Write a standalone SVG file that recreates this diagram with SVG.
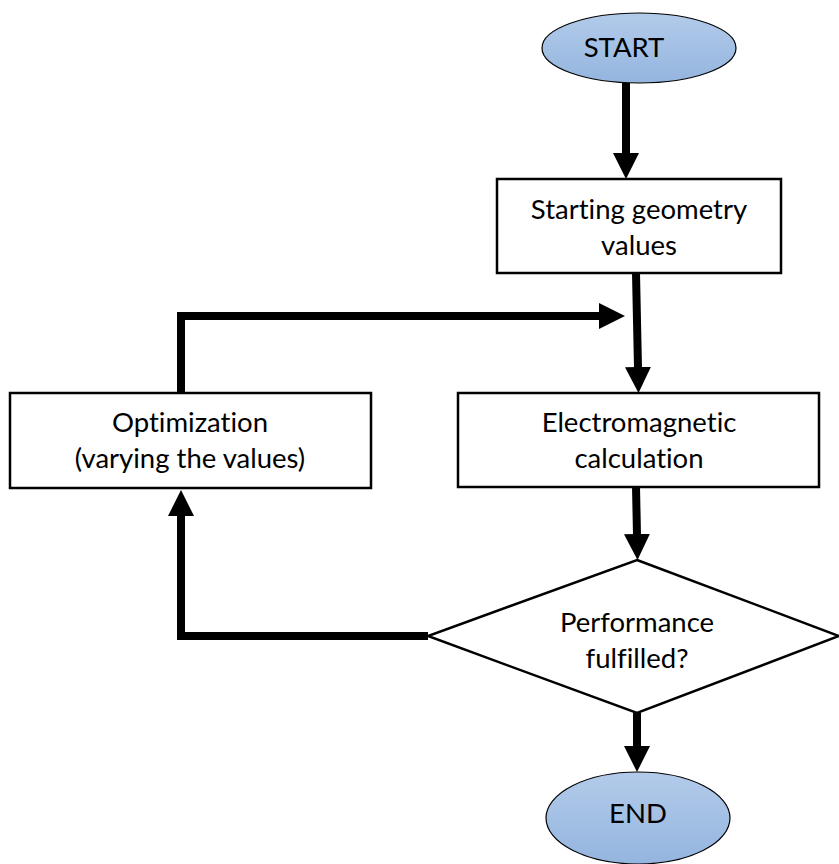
<svg xmlns="http://www.w3.org/2000/svg" width="839" height="864" viewBox="0 0 839 864">
  <defs>
    <linearGradient id="blueFill" x1="0" y1="0" x2="0" y2="1">
      <stop offset="0" stop-color="#b3cbea"/>
      <stop offset="1" stop-color="#94b5df"/>
    </linearGradient>
    <marker id="head" markerUnits="userSpaceOnUse" markerWidth="26" markerHeight="26" viewBox="0 0 26 26" refX="1" refY="13" orient="auto">
      <path d="M0,0 L26,13 L0,26 z" fill="#000"/>
    </marker>
    <style>
      .term { fill: url(#blueFill); stroke: #000; stroke-width: 1.2; }
      .box { fill: #fff; stroke: #000; stroke-width: 2.5; }
      .lbl { font-family: Lato, "Liberation Sans", Arial, sans-serif; font-size: 27.5px; fill: #000; text-anchor: middle; font-variant-ligatures: none; }
      .conn { fill: none; stroke: #000; stroke-width: 8; stroke-linejoin: miter; marker-end: url(#head); }
    </style>
  </defs>
  <rect width="839" height="864" fill="#fff"/>

  <g id="connectors">
    <line class="conn" x1="626" y1="83" x2="626" y2="154"/>
    <line class="conn" x1="636" y1="273" x2="638" y2="368"/>
    <polyline class="conn" points="181,393 181,316 600,316"/>
    <line class="conn" x1="636" y1="487" x2="637" y2="535"/>
    <polyline class="conn" points="428,636 181,636 181,515"/>
    <line class="conn" x1="637" y1="713" x2="637" y2="747"/>
  </g>

  <g id="start">
    <ellipse class="term" cx="639" cy="48" rx="97" ry="35"/>
    <text class="lbl" x="624" y="57">START</text>
  </g>

  <g id="starting-geometry">
    <rect class="box" x="497" y="179" width="284" height="94"/>
    <text class="lbl" x="639" y="219">Starting geometry</text>
    <text class="lbl" x="639" y="255">values</text>
  </g>

  <g id="optimization">
    <rect class="box" x="10" y="393" width="361" height="95"/>
    <text class="lbl" x="190" y="432">Optimization</text>
    <text class="lbl" x="190" y="468">(varying the values)</text>
  </g>

  <g id="electromagnetic">
    <rect class="box" x="458" y="393" width="361" height="94"/>
    <text class="lbl" x="639" y="432">Electromagnetic</text>
    <text class="lbl" x="639" y="468">calculation</text>
  </g>

  <g id="decision">
    <polygon class="box" points="637,560 839,636 637,713 428,636"/>
    <text class="lbl" x="637" y="632">Performance</text>
    <text class="lbl" x="637" y="668">fulfilled?</text>
  </g>

  <g id="end">
    <ellipse class="term" cx="638" cy="818" rx="92" ry="46"/>
    <text class="lbl" x="638" y="823">END</text>
  </g>
</svg>
